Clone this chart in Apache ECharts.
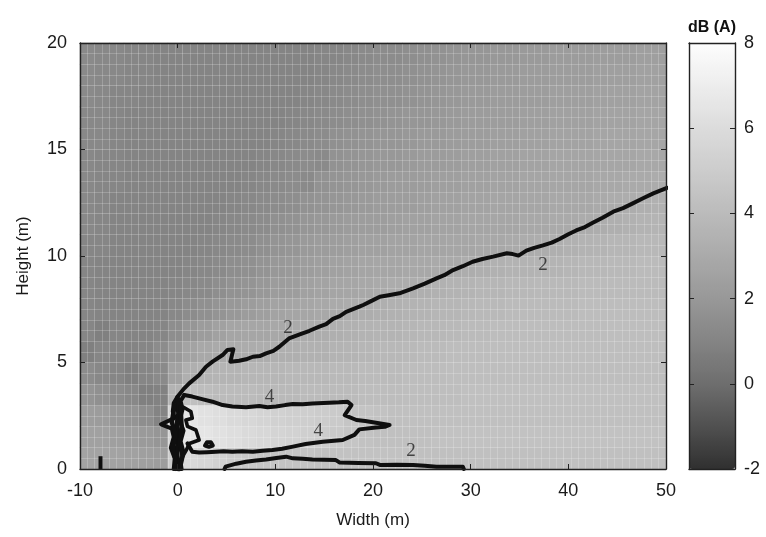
<!DOCTYPE html>
<html>
<head>
<meta charset="utf-8">
<script src="https://cdn.jsdelivr.net/npm/echarts@6.0.0/dist/echarts.min.js"></script>
<style>
  html, body { margin: 0; padding: 0; background: #ffffff; }
  #chart { width: 766px; height: 537px; }
</style>
</head>
<body>
<div id="chart"></div>
<script>
// ---- axes ----
const widthTicks = [-10, 0, 10, 20, 30, 40, 50];
const heightTicks = [0, 5, 10, 15, 20];
const colorbarTicks = [-2, 0, 2, 4, 6, 8];

// ---- field cells: 1.5 m wide columns, 1 m tall rows ----
const widthCells = [-9.25, -7.75, -6.25, -4.75, -3.25, -1.75, -0.25, 1.25, 2.75, 4.25,
  5.75, 7.25, 8.75, 10.25, 11.75, 13.25, 14.75, 16.25, 17.75, 19.25,
  20.75, 22.25, 23.75, 25.25, 26.75, 28.25, 29.75, 31.25, 32.75, 34.25,
  35.75, 37.25, 38.75, 40.25, 41.75, 43.25, 44.75, 46.25, 47.75, 49.25];
const heightCells = [0.5, 1.5, 2.5, 3.5, 4.5, 5.5, 6.5, 7.5, 8.5, 9.5,
  10.5, 11.5, 12.5, 13.5, 14.5, 15.5, 16.5, 17.5, 18.5, 19.5];

// dB(A) per row, west to east; dbRowK covers heights K..K+1 m
const dbRow0 = [2.6,2.6,2.6,2.5,2.4, 2.3,5.0,5.8,5.6,5.3, 5.0,4.8,4.6,4.5,4.5, 4.5,4.4,4.4,4.4,4.4, 4.4,4.4,4.4,4.3,4.3, 4.3,4.3,4.3,4.3,4.3, 4.3,4.3,4.3,4.3,4.3, 4.3,4.3,4.3,4.3,4.3];
const dbRow1 = [2.5,2.5,2.4,2.3,2.1, 1.9,5.5,6.6,6.5,6.3, 6.1,5.9,5.7,5.5,5.4, 5.2,5.0,4.8,4.6,4.4, 4.3,4.3,4.3,4.3,4.4, 4.4,4.4,4.4,4.4,4.4, 4.4,4.4,4.4,4.4,4.4, 4.4,4.4,4.4,4.4,4.4];
const dbRow2 = [2.3,2.2,2.0,1.8,1.5, 1.0,5.5,6.5,6.3,6.1, 5.9,5.7,5.5,5.3,5.2, 5.1,5.0,4.9,4.6,4.5, 4.4,4.3,4.3,4.3,4.3, 4.3,4.3,4.3,4.3,4.3, 4.3,4.3,4.3,4.3,4.3, 4.3,4.3,4.3,4.3,4.3];
const dbRow3 = [1.8,1.6,1.4,1.2,0.8, 0.9,3.5,4.3,4.1,4.0, 4.0,4.0,3.9,3.9,3.9, 4.0,4.0,4.0,4.0,4.1, 4.1,4.1,4.2,4.2,4.2, 4.2,4.3,4.3,4.3,4.3, 4.3,4.3,4.3,4.3,4.3, 4.3,4.3,4.3,4.3,4.3];
const dbRow4 = [1.4,1.2,1.1,0.8,1.1, 1.3,2.5,3.3,3.5,3.6, 3.6,3.7,3.7,3.7,3.8, 3.8,3.8,3.9,3.9,4.0, 4.0,4.0,4.1,4.1,4.1, 4.2,4.2,4.2,4.2,4.2, 4.2,4.2,4.2,4.2,4.2, 4.2,4.2,4.2,4.2,4.2];
const dbRow5 = [0.8,1.1,1.1,1.0,1.1, 1.4,2.0,2.6,2.9,3.0, 3.1,3.1,3.2,3.3,3.3, 3.4,3.4,3.5,3.6,3.7, 3.8,3.8,3.9,4.0,4.0, 4.1,4.1,4.1,4.2,4.2, 4.2,4.2,4.2,4.2,4.2, 4.2,4.2,4.2,4.2,4.2];
const dbRow6 = [1.1,0.8,1.1,1.0,1.0, 1.1,1.5,1.9,2.2,2.5, 2.7,2.8,2.8,2.9,3.0, 3.1,3.2,3.3,3.4,3.5, 3.6,3.6,3.7,3.8,3.8, 3.9,4.0,4.0,4.1,4.1, 4.1,4.1,4.1,4.1,4.1, 4.1,4.2,4.2,4.2,4.2];
const dbRow7 = [1.1,1.0,1.0,1.0,1.0, 1.0,1.2,1.4,1.6,1.8, 2.0,2.2,2.4,2.6,2.7, 2.8,2.9,3.0,3.1,3.2, 3.3,3.4,3.5,3.6,3.7, 3.7,3.8,3.9,3.9,4.0, 4.0,4.0,4.0,4.0,4.1, 4.1,4.1,4.1,4.1,4.1];
const dbRow8 = [1.1,1.0,1.0,1.0,1.0, 1.0,1.1,1.2,1.3,1.5, 1.7,1.8,2.0,2.2,2.3, 2.5,2.6,2.7,2.8,2.9, 3.0,3.1,3.2,3.3,3.4, 3.5,3.6,3.7,3.7,3.8, 3.8,3.9,3.9,3.9,4.0, 4.0,4.0,4.0,4.0,4.0];
const dbRow9 = [1.1,1.0,1.0,1.0,1.0, 1.0,1.0,1.1,1.2,1.3, 1.5,1.6,1.8,2.0,2.1, 2.3,2.4,2.5,2.6,2.7, 2.8,2.8,2.9,2.9,3.0, 3.0,3.2,3.3,3.4,3.5, 3.5,3.6,3.6,3.7,3.8, 3.8,3.9,3.9,4.0,4.0];
const dbRow10 = [1.1,1.1,1.0,1.0,1.0, 1.0,1.0,1.0,1.1,1.2, 1.3,1.4,1.6,1.8,1.9, 2.1,2.2,2.3,2.4,2.5, 2.5,2.6,2.6,2.7,2.7, 2.8,2.8,2.9,2.9,3.0, 3.1,3.2,3.3,3.4,3.5, 3.6,3.7,3.7,3.8,3.8];
const dbRow11 = [1.2,1.1,1.0,1.0,1.0, 1.0,1.0,1.0,1.0,1.1, 1.2,1.3,1.4,1.6,1.7, 1.9,2.0,2.1,2.2,2.3, 2.3,2.4,2.5,2.5,2.6, 2.6,2.7,2.7,2.8,2.8, 2.9,2.9,3.0,3.0,3.1, 3.2,3.3,3.4,3.5,3.6];
const dbRow12 = [1.2,1.1,1.0,1.0,1.0, 1.0,1.0,1.0,1.0,1.0, 1.1,1.2,1.3,1.4,1.5, 1.7,1.8,1.9,2.0,2.1, 2.2,2.3,2.3,2.4,2.5, 2.5,2.6,2.6,2.7,2.7, 2.8,2.8,2.9,2.9,2.9, 3.0,3.1,3.2,3.3,3.4];
const dbRow13 = [1.2,1.1,1.1,1.0,1.0, 1.0,1.0,1.0,1.0,1.0, 1.0,1.1,1.2,1.3,1.4, 1.3,1.7,1.8,1.9,2.0, 2.1,2.2,2.2,2.3,2.4, 2.4,2.5,2.5,2.6,2.6, 2.7,2.7,2.8,2.8,2.8, 2.9,2.9,3.0,3.0,3.1];
const dbRow14 = [1.2,1.1,1.1,1.0,1.0, 1.0,1.0,1.0,1.0,1.0, 1.0,1.0,1.1,1.2,1.3, 1.4,1.3,1.7,1.8,1.9, 2.0,2.0,2.1,2.2,2.2, 2.3,2.4,2.4,2.5,2.5, 2.6,2.6,2.7,2.7,2.7, 2.8,2.8,2.8,2.9,2.9];
const dbRow15 = [1.2,1.2,1.1,1.0,1.0, 1.0,1.0,1.0,1.0,1.0, 1.0,1.0,1.0,1.1,1.2, 1.3,1.4,1.6,1.7,1.8, 1.9,1.9,2.0,2.1,2.1, 2.2,2.3,2.3,2.4,2.4, 2.5,2.5,2.6,2.6,2.6, 2.7,2.7,2.7,2.8,2.8];
const dbRow16 = [1.2,1.2,1.1,1.0,1.0, 1.0,1.0,1.0,1.0,1.0, 1.0,1.0,1.0,1.0,1.1, 1.2,1.3,1.4,1.5,1.6, 1.7,1.8,1.9,1.9,2.0, 2.1,2.2,2.2,2.3,2.3, 2.4,2.4,2.5,2.5,2.5, 2.6,2.6,2.6,2.7,2.7];
const dbRow17 = [1.3,1.2,1.1,1.1,1.0, 1.0,1.0,1.0,1.0,1.0, 1.0,1.0,1.0,1.0,1.0, 1.1,1.2,1.3,1.4,1.5, 1.6,1.6,1.7,1.8,1.9, 2.0,2.1,2.1,2.2,2.2, 2.3,2.3,2.4,2.4,2.4, 2.5,2.5,2.5,2.6,2.6];
const dbRow18 = [1.3,1.2,1.2,1.1,1.1, 1.0,1.0,1.0,1.0,1.0, 1.0,1.0,1.0,1.0,1.0, 1.0,1.1,1.2,1.3,1.4, 1.5,1.5,1.6,1.7,1.8, 1.9,2.0,2.0,2.1,2.1, 2.2,2.2,2.3,2.3,2.3, 2.4,2.4,2.4,2.5,2.5];
const dbRow19 = [1.3,1.2,1.2,1.1,1.1, 1.0,1.0,1.0,1.0,1.0, 1.0,1.0,1.0,1.0,1.0, 1.0,1.1,1.1,1.2,1.3, 1.4,1.4,1.5,1.6,1.7, 1.8,1.9,1.9,2.0,2.0, 2.1,2.1,2.2,2.2,2.2, 2.3,2.3,2.3,2.4,2.4];

// ---- contour paths [width, height] ----
const contour2Upper = [[-0.02,3.39],[0.6,3.75],[1.18,4.02],[2.2,4.41],[2.9,4.8],[3.57,5.04],[4.6,5.35],[5.1,5.59],[5.7,5.62],[5.4,5.04],[6.3,5.08],[7.0,5.15],[7.7,5.27],[8.4,5.3],[9.05,5.43],[9.8,5.55],[10.4,5.74],[11.4,6.13],[12.5,6.32],[13.5,6.49],[14.5,6.68],[15.2,6.8],[15.9,7.05],[16.6,7.18],[17.25,7.38],[18.6,7.62],[19.0,7.7],[19.8,7.88],[20.7,8.09],[21.6,8.16],[22.7,8.25],[24.1,8.48],[25.3,8.7],[26.5,8.95],[27.3,9.1],[28.2,9.34],[29.2,9.52],[30.2,9.73],[31.2,9.86],[32.3,9.97],[33.7,10.13],[34.3,10.09],[34.9,10.02],[35.7,10.25],[36.5,10.38],[37.4,10.5],[38.3,10.63],[39.1,10.8],[40.0,11.02],[40.8,11.2],[41.7,11.36],[42.5,11.56],[43.5,11.8],[44.6,12.08],[45.6,12.25],[46.6,12.47],[47.7,12.72],[48.7,12.94],[50.1,13.2]];
const contour4 = [[0.67,3.47],[1.5,3.4],[2.5,3.28],[3.57,3.16],[4.6,3.0],[5.6,2.93],[7.0,2.9],[8.36,2.96],[9.2,2.9],[10.07,2.93],[11.0,3.0],[11.8,3.05],[12.8,3.04],[13.8,3.08],[15.5,3.11],[16.5,3.13],[17.4,3.16],[17.8,3.0],[17.1,2.53],[18.3,2.3],[19.2,2.25],[20.3,2.17],[21.7,2.07],[21.2,1.98],[20.3,1.95],[18.6,1.86],[18.1,1.6],[16.9,1.36],[14.85,1.28],[13.1,1.17],[11.8,1.05],[10.7,0.95],[9.7,0.89],[8.7,0.86],[7.7,0.81],[6.6,0.83],[5.6,0.81],[4.7,0.83],[3.9,0.81],[3.0,0.79],[2.2,0.77],[1.5,0.81],[1.0,1.2]];
const contour2Lower = [[4.8,0.0],[4.9,0.11],[6.0,0.25],[7.0,0.34],[8.0,0.4],[9.05,0.45],[10.1,0.52],[11.1,0.58],[11.8,0.5],[12.8,0.48],[13.8,0.45],[15.0,0.44],[16.2,0.42],[16.6,0.3],[18.5,0.28],[20.3,0.27],[20.7,0.19],[22.4,0.2],[24.1,0.19],[25.3,0.15],[26.5,0.11],[28.0,0.11],[29.2,0.11],[29.3,0.0]];
// tangle of short contours around the source
const sourceLeft = [[-0.02,3.39],[-0.4,3.1],[-0.5,2.7],[-0.3,2.4],[-1.7,2.1],[-0.6,1.9],[-0.4,1.5],[-0.7,1.0],[-0.3,0.5],[-0.4,0.0]];
const sourceRight = [[0.67,3.47],[0.3,3.2],[0.5,2.8],[0.2,2.3],[0.6,1.8],[0.3,1.3],[0.6,0.8],[0.3,0.3],[0.4,0.0]];
const sourceCore = [[0.0,3.3],[0.1,2.6],[-0.1,2.0],[0.1,1.4],[-0.1,0.8],[0.1,0.0]];
const sourceCoreWest = [[-0.3,3.0],[-0.6,2.2],[-0.2,1.6],[-0.5,1.0],[-0.2,0.4],[-0.2,0.0]];
const sourceCoreEast = [[0.3,2.9],[0.4,2.0],[0.2,1.2],[0.5,0.6],[0.2,0.0]];
const sourceLoop = [[0.6,2.9],[1.35,2.7],[1.5,2.38],[0.84,2.3],[1.0,2.0],[1.87,1.83],[2.2,1.36],[1.2,1.2],[0.9,0.9],[0.5,0.58]];
const smallIsland = [[2.8,1.1],[3.0,1.26],[3.4,1.26],[3.6,1.1],[3.2,1.04],[2.8,1.1]];
const westFragment = [[-7.9,0.0],[-7.9,0.6]];

// contour labels [width, height, level]
const contourLabels = [[37.4,9.58,2],[11.3,6.6,2],[9.4,3.39,4],[14.4,1.78,4],[23.9,0.83,2]];

// grey ramp from -2 to 8 dB(A)
const grayRamp = ['#303030','#505050','#6e6e6e','#848484','#989898','#aaaaaa','#bbbbbb','#cccccc','#dcdcdc','#ededed','#fdfdfd'];

// ---- build ----
const fieldRows = [dbRow0, dbRow1, dbRow2, dbRow3, dbRow4, dbRow5, dbRow6, dbRow7, dbRow8, dbRow9,
  dbRow10, dbRow11, dbRow12, dbRow13, dbRow14, dbRow15, dbRow16, dbRow17, dbRow18, dbRow19];
const heatData = [];
fieldRows.forEach((row, j) => row.forEach((v, i) => heatData.push([i, j, v])));

const sans = '"Liberation Sans", Arial, Helvetica, sans-serif';
const axisColor = '#222222';
const tickLabel = { fontFamily: sans, fontSize: 18, color: '#1a1a1a' };
const frameLine = { show: true, onZero: false, lineStyle: { color: axisColor, width: 1.4 } };
const innerTick = { show: true, inside: true, length: 5, lineStyle: { color: axisColor, width: 1 } };
const noLabel = { show: false };
const noSplit = { show: false };
const meshLine = { show: true, lineStyle: { color: 'rgba(255,255,255,0.2)', width: 1 } };

const span = arr => ({ min: arr[0], max: arr[arr.length - 1], interval: arr[1] - arr[0] });

function contourSeries(data, width) {
  return {
    type: 'line', xAxisIndex: 0, yAxisIndex: 0, data: data,
    symbol: 'none', silent: true, z: 4, clip: true,
    lineStyle: { color: '#0f0f0f', width: width || 4, cap: 'round', join: 'round' }
  };
}

const chart = echarts.init(document.getElementById('chart'), null, { renderer: 'canvas' });
chart.setOption({
  backgroundColor: '#ffffff',
  animation: false,
  grid: [
    { left: 80, top: 43, width: 586, height: 426 },
    { left: 689, top: 43, width: 46, height: 426 }
  ],
  xAxis: [
    Object.assign({ type: 'value', gridIndex: 0, position: 'bottom', z: 6,
      axisLine: frameLine, axisTick: innerTick, splitLine: noSplit,
      axisLabel: Object.assign({ margin: 13 }, tickLabel),
      name: 'Width (m)', nameLocation: 'middle', nameGap: 43,
      nameTextStyle: { fontFamily: sans, fontSize: 17, color: '#1a1a1a' } }, span(widthTicks)),
    Object.assign({ type: 'value', gridIndex: 0, position: 'top', z: 6,
      axisLine: frameLine, axisTick: innerTick, axisLabel: noLabel, splitLine: noSplit }, span(widthTicks)),
    { type: 'category', gridIndex: 0, data: widthCells, show: false },
    { type: 'value', gridIndex: 0, min: 0, max: 80, interval: 1, position: 'top', z: 3,
      axisLine: { show: false }, axisTick: { show: false }, axisLabel: noLabel, splitLine: meshLine },
    { type: 'value', gridIndex: 1, min: 0, max: 1, position: 'top', z: 6,
      axisLine: frameLine, axisTick: { show: false }, axisLabel: noLabel, splitLine: noSplit },
    { type: 'value', gridIndex: 1, min: 0, max: 1, position: 'bottom', z: 6,
      axisLine: frameLine, axisTick: { show: false }, axisLabel: noLabel, splitLine: noSplit }
  ],
  yAxis: [
    Object.assign({ type: 'value', gridIndex: 0, position: 'left', z: 6,
      axisLine: frameLine, axisTick: innerTick, splitLine: noSplit,
      axisLabel: Object.assign({ margin: 13 }, tickLabel),
      name: 'Height (m)', nameLocation: 'middle', nameGap: 48,
      nameTextStyle: { fontFamily: sans, fontSize: 17, color: '#1a1a1a' } }, span(heightTicks)),
    Object.assign({ type: 'value', gridIndex: 0, position: 'right', z: 6,
      axisLine: frameLine, axisTick: innerTick, axisLabel: noLabel, splitLine: noSplit }, span(heightTicks)),
    { type: 'category', gridIndex: 0, data: heightCells, show: false },
    { type: 'value', gridIndex: 0, min: 0, max: 40, interval: 1, position: 'left', z: 3,
      axisLine: { show: false }, axisTick: { show: false }, axisLabel: noLabel, splitLine: meshLine },
    Object.assign({ type: 'value', gridIndex: 1, position: 'right', z: 6,
      axisLine: frameLine, axisTick: innerTick, splitLine: noSplit,
      axisLabel: Object.assign({ margin: 9 }, tickLabel) }, span(colorbarTicks)),
    Object.assign({ type: 'value', gridIndex: 1, position: 'left', z: 6,
      axisLine: frameLine, axisTick: innerTick, axisLabel: noLabel, splitLine: noSplit }, span(colorbarTicks))
  ],
  visualMap: {
    type: 'continuous', seriesIndex: 0, min: colorbarTicks[0], max: colorbarTicks[colorbarTicks.length - 1],
    calculable: false, hoverLink: false, orient: 'vertical',
    left: 689, top: 43, itemWidth: 46, itemHeight: 426, padding: 0,
    inRange: { color: grayRamp }, z: 4
  },
  graphic: [{
    type: 'text', x: 712, y: 28, z: 10,
    style: { text: 'dB (A)', font: 'bold 16px "Liberation Sans", Arial, sans-serif', fill: '#111111',
      align: 'center', verticalAlign: 'middle' }
  }],
  series: [
    { type: 'heatmap', xAxisIndex: 2, yAxisIndex: 2, data: heatData, silent: true, progressive: 0,
      itemStyle: { borderWidth: 0 }, emphasis: { disabled: true } },
    contourSeries(contour2Upper),
    contourSeries(contour4),
    contourSeries(contour2Lower),
    contourSeries(sourceLeft, 4),
    contourSeries(sourceRight, 4),
    contourSeries(sourceCore, 5),
    contourSeries(sourceCoreWest, 4.5),
    contourSeries(sourceCoreEast, 4.5),
    contourSeries(sourceLoop, 3.6),
    contourSeries(smallIsland, 4),
    Object.assign(contourSeries(westFragment), { lineStyle: { color: '#0f0f0f', width: 4, cap: 'butt' } }),
    {
      type: 'scatter', xAxisIndex: 0, yAxisIndex: 0, data: contourLabels, symbolSize: 1, silent: true, z: 5,
      itemStyle: { color: 'transparent' },
      label: { show: true, position: 'inside', formatter: p => String(p.value[2]),
        fontFamily: '"Liberation Serif", "Times New Roman", serif', fontSize: 19, color: '#222222' }
    }
  ]
});
</script>
</body>
</html>
